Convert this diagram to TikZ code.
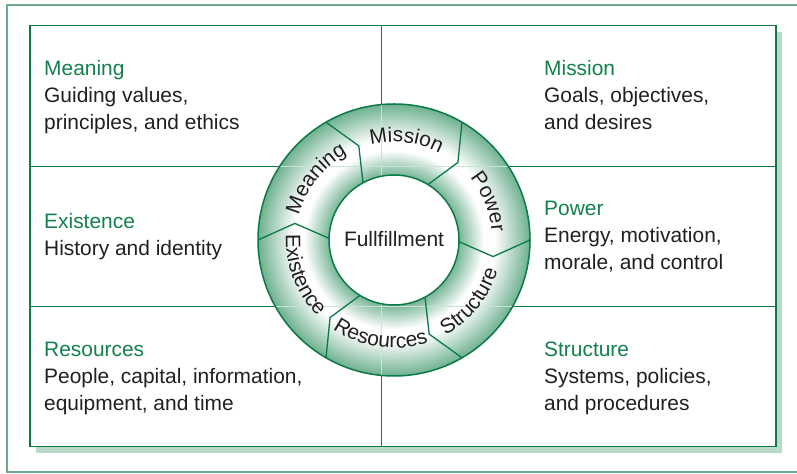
\documentclass[tikz,border=0pt]{standalone}
\usepackage{fontspec}
\setmainfont{Liberation Sans}
\usetikzlibrary{calc,decorations.text}
\definecolor{linegreen}{HTML}{0B7A45}
\definecolor{titlegreen}{HTML}{13804D}
\definecolor{shadowgreen}{HTML}{B8D9C7}
\definecolor{framegreen}{HTML}{6DAA8A}
\definecolor{ringgreen}{HTML}{5EA883}
\definecolor{inktext}{HTML}{231F20}
\definecolor{ringline}{HTML}{C9E3D5}
\pgfdeclareradialshading{ringshade}{\pgfpoint{0bp}{0bp}}{color(0bp)=(ringgreen); color(11.9bp)=(ringgreen!85!white); color(16.5bp)=(white); color(18.5bp)=(white); color(25bp)=(ringgreen!90!white); color(50bp)=(ringgreen)}
\newcommand\boxfont{\fontsize{21}{26.7}\selectfont}
\newcommand\ringfont{\fontsize{21}{25}\selectfont}
\begin{document}
\begin{tikzpicture}[x=1bp,y=1bp,
  boxtitle/.style={font=\boxfont, text=titlegreen, anchor=base west, inner sep=0pt},
  boxbody/.style={font=\boxfont, text=inktext, anchor=base west, inner sep=0pt},
  gridline/.style={draw=linegreen, line width=1.4bp},
  divider/.style={draw=linegreen, line width=1.3bp},
  ringedge/.style={draw=linegreen, line width=1.5bp}]
\useasboundingbox (0,0) rectangle (797,474);
\coordinate (C) at (394,234);
% outer frame
\draw[framegreen, line width=2bp] (800,469) -- (7,469) -- (7,2) -- (800,2);
% shadow and panel
\fill[shadowgreen] (36,21.3) rectangle (782,442);
\filldraw[fill=white, gridline] (30,27.3) rectangle (776,448.3);
% grid
\coordinate (vtop) at (381.7,448.3);
\coordinate (vbot) at (381.7,27.3);
\coordinate (hl1) at (30,307.3);
\coordinate (hr1) at (776,307.3);
\coordinate (hl2) at (30,167.3);
\coordinate (hr2) at (776,167.3);
\draw[gridline] (vtop) -- (vbot) (hl1) -- (hr1) (hl2) -- (hr2);
% ring
\shade[shading=ringshade] (C) circle[radius=136];
\begin{scope}
  \clip (C) circle[radius=136];
  \draw[ringline, line width=1bp] (vtop) -- (vbot) (hl1) -- (hr1) (hl2) -- (hr2);
\end{scope}
\fill[white] (C) circle[radius=65];
\foreach \t [evaluate=\t as \k using \t-8, evaluate=\t as \o using \t+1.5] in {-1.5,58.5,118.5,178.5,238.5,298.5}
  \draw[divider] ($(C)+(\t:65)$) -- ($(C)+(\k:100.5)$) -- ($(C)+(\o:136)$);
\draw[ringedge] (C) circle[radius=136];
\draw[ringedge] (C) circle[radius=65];
\node[font=\boxfont, text=inktext, anchor=base, inner sep=0pt] (core) at (394,227.3) {Fullfillment};
% ring labels (clockwise, tops outward)
\path[decorate, decoration={text along path, text align=center, text={|\ringfont\color{inktext}|Mission}}]
  ($(C)+(128:98)$) arc[start angle=128, end angle=38, radius=98];
\path[decorate, decoration={text along path, text align=center, text={|\ringfont\color{inktext}|Power}}]
  ($(C)+(67:98)$) arc[start angle=67, end angle=-23, radius=98];
\path[decorate, decoration={text along path, text align=center, text={|\ringfont\color{inktext}|Meaning}}]
  ($(C)+(187:98)$) arc[start angle=187, end angle=97, radius=98];
% ring labels (counter-clockwise, tops inward)
\path[decorate, decoration={text along path, text align=center, text={|\ringfont\color{inktext}|Structure}}]
  ($(C)+(-84:108)$) arc[start angle=-84, end angle=6, radius=108];
\path[decorate, decoration={text along path, text align=center, text={|\ringfont\color{inktext}|Resources}}]
  ($(C)+(217:108)$) arc[start angle=217, end angle=307, radius=108];
\path[decorate, decoration={text along path, text align=center, text={|\ringfont\color{inktext}|Existence}}]
  ($(C)+(156:108)$) arc[start angle=156, end angle=246, radius=108];
% top-left
\node[boxtitle] (meaningT) at (44,398.3) {Meaning};
\node[boxbody] (meaningB1) at (44,371.6) {Guiding values,};
\node[boxbody] (meaningB2) at (44,344.9) {principles, and ethics};
% top-right
\node[boxtitle] (missionT) at (544,398.3) {Mission};
\node[boxbody] (missionB1) at (544,371.6) {Goals, objectives,};
\node[boxbody] (missionB2) at (544,344.9) {and desires};
% middle-left
\node[boxtitle] (existT) at (44,245) {Existence};
\node[boxbody] (existB1) at (44,218.3) {History and identity};
% middle-right
\node[boxtitle] (powerT) at (544,258.3) {Power};
\node[boxbody] (powerB1) at (544,231.6) {Energy, motivation,};
\node[boxbody] (powerB2) at (544,204.9) {morale, and control};
% bottom-left
\node[boxtitle] (resT) at (44,117) {Resources};
\node[boxbody] (resB1) at (44,90.3) {People, capital, information,};
\node[boxbody] (resB2) at (44,63.6) {equipment, and time};
% bottom-right
\node[boxtitle] (structT) at (544,117) {Structure};
\node[boxbody] (structB1) at (544,90.3) {Systems, policies,};
\node[boxbody] (structB2) at (544,63.6) {and procedures};
\end{tikzpicture}
\end{document}
